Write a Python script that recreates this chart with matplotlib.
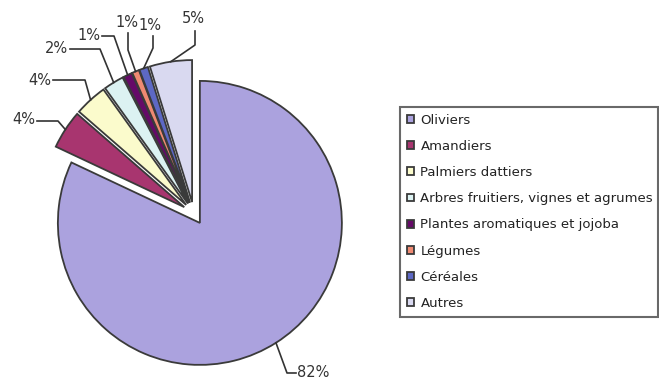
import matplotlib.pyplot as plt
import numpy as np

# données (répartition des surfaces)
cultures = ["Oliviers", "Amandiers", "Palmiers dattiers",
            "Arbres fruitiers, vignes et agrumes", "Plantes aromatiques et jojoba",
            "Légumes", "Céréales", "Autres"]
parts = [82.0, 4.4, 3.7, 2.3, 1.0, 0.8, 1.0, 4.8]
etiquettes = ["82%", "4%", "4%", "2%", "1%", "1%", "1%", "5%"]
couleurs = ["#aba2de", "#a8356f", "#fbfbcc", "#dcf2f2",
            "#650a68", "#ef8a72", "#5d68c4", "#d9d9f0"]

plt.rcParams["font.family"] = ["DejaVu Sans"]

W, H = 659, 381
fig = plt.figure(figsize=(W / 100, H / 100), dpi=100)
ax = fig.add_axes([0.01396, -0.04436, 0.5602, 0.9690])

wedges, _ = ax.pie(parts, colors=couleurs, startangle=90, counterclock=False,
                   explode=[0.08] * len(parts), radius=1.0,
                   wedgeprops=dict(edgecolor="#3a3a3a", linewidth=1.3))
ax.set_xlim(-1.3, 1.3)
ax.set_ylim(-1.3, 1.3)
ax.axis("off")


def px(x, y):
    # position en pixels (origine en haut à gauche) -> coordonnées données
    return ax.transData.inverted().transform((x, H - y))


# placement des étiquettes : (points du trait de rappel en px, position du texte, alignement)
placement = [
    ([(287, 373), (296, 373)], (297, 373), "left"),
    ([(58, 121), (37, 121)], (35, 119), "right"),
    ([(85, 80), (53, 80)], (51, 80), "right"),
    ([(100, 49), (70, 49)], (68, 48), "right"),
    ([(114, 36), (102, 36)], (100, 35), "right"),
    ([(128, 50), (128, 33)], (127, 22), "center"),
    ([(153, 48), (153, 36)], (150, 25), "center"),
    ([(195, 45), (195, 31)], (193, 18), "center"),
]

for w, lab, (pts, txt, ha) in zip(wedges, etiquettes, placement):
    th = np.deg2rad((w.theta1 + w.theta2) / 2)
    cx, cy = w.center
    x0, y0 = cx + w.r * np.cos(th), cy + w.r * np.sin(th)
    xs = [x0] + [px(*p)[0] for p in pts]
    ys = [y0] + [px(*p)[1] for p in pts]
    ax.plot(xs, ys, color="#333333", lw=1.2, clip_on=False)
    tx, ty = px(*txt)
    ax.text(tx, ty, lab, ha=ha, va="center", fontsize=10.5, color="#333333")

leg = fig.legend(wedges, cultures, loc="upper left",
                 bbox_to_anchor=(400 / W, 1 - 315 / H, 258 / W, 208 / H),
                 mode="expand", borderaxespad=0, fontsize=9.5,
                 handlelength=0.55, handleheight=0.55, handletextpad=0.5,
                 labelspacing=1.0, borderpad=0.5, fancybox=False)
leg.get_frame().set_edgecolor("#444444")
leg.get_frame().set_linewidth(1.5)
for t in leg.get_texts():
    t.set_color("#222222")

plt.savefig("out.png", dpi=100)
plt.close()
